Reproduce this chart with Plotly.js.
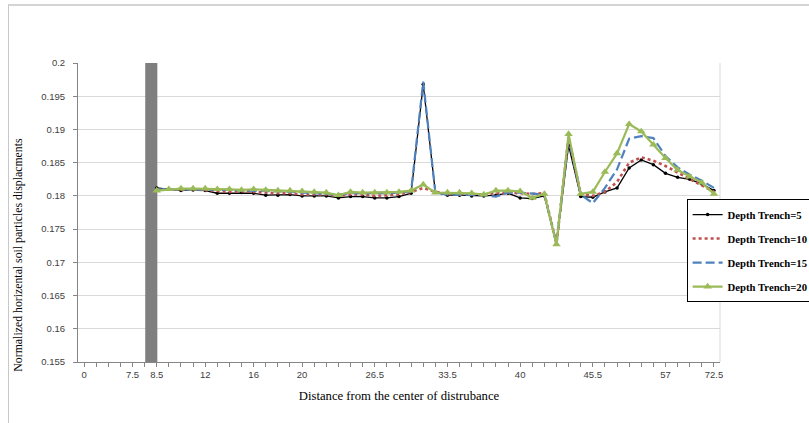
<!DOCTYPE html>
<html>
<head>
<meta charset="utf-8">
<script src="https://cdn.plot.ly/plotly-3.0.1.min.js"></script>
<style>
  html, body { margin: 0; padding: 0; overflow: hidden; background: #ffffff; }
  #frame { position: absolute; left: 8px; top: 4px; width: 900px; height: 520px;
           border-left: 1px solid #c8c8c8; border-top: 2px solid #d4d4d4; }
  #chart { position: absolute; left: 0; top: 0; width: 880px; height: 423px; }
</style>
</head>
<body>
<div id="frame"></div>
<div id="chart"></div>
<script>
// Station index of the first computed point (stations are evenly spaced on the category axis)
const firstStation = 6;

// Category axis labels and the stations they sit on
const tickStations = [0, 4, 6, 10, 14, 18, 24, 30, 36, 42, 48, 52];
const tickLabels = ['0', '7.5', '8.5', '12', '16', '20', '26.5', '33.5', '40', '45.5', '57', '72.5'];

// Trench location on the axis
const trenchStation = 5.55;
const trenchWidth = 1;
const trenchBase = 0.155;
const trenchTop = 0.2;

// Normalized horizontal displacement for each trench depth
const depth5 = [0.1812, 0.1810, 0.1808, 0.1809, 0.1808, 0.1804, 0.1804, 0.1805, 0.1804, 0.1801,
                0.1801, 0.1802, 0.1800, 0.1800, 0.1800, 0.1797, 0.1799, 0.1799, 0.1797, 0.1797,
                0.1799, 0.1804, 0.1968, 0.1805, 0.1801, 0.1801, 0.1800, 0.1800, 0.1801, 0.1804,
                0.1797, 0.1796, 0.1800, 0.1728, 0.1876, 0.1799, 0.1798, 0.1806, 0.1812, 0.1842,
                0.1854, 0.1847, 0.1834, 0.1828, 0.1825, 0.1818, 0.1808];
const depth10 = [0.1810, 0.1809, 0.1809, 0.1810, 0.1809, 0.1807, 0.1806, 0.1807, 0.1806, 0.1804,
                 0.1804, 0.1804, 0.1802, 0.1802, 0.1802, 0.1800, 0.1802, 0.1802, 0.1800, 0.1801,
                 0.1802, 0.1806, 0.1812, 0.1806, 0.1803, 0.1803, 0.1802, 0.1802, 0.1804, 0.1805,
                 0.1804, 0.1803, 0.1804, 0.1728, 0.1888, 0.1803, 0.1800, 0.1806, 0.1821, 0.1850,
                 0.1858, 0.1853, 0.1845, 0.1835, 0.1826, 0.1816, 0.1806];
const depth15 = [0.1810, 0.1810, 0.1810, 0.1810, 0.1810, 0.1809, 0.1809, 0.1808, 0.1808, 0.1807,
                 0.1807, 0.1806, 0.1805, 0.1805, 0.1804, 0.1802, 0.1804, 0.1804, 0.1803, 0.1804,
                 0.1805, 0.1807, 0.1972, 0.1805, 0.1802, 0.1802, 0.1801, 0.1801, 0.1799, 0.1805,
                 0.1805, 0.1804, 0.1802, 0.1728, 0.1888, 0.1802, 0.1789, 0.1812, 0.1840, 0.1886,
                 0.1890, 0.1887, 0.1860, 0.1843, 0.1832, 0.1823, 0.1812];
const depth20 = [0.1808, 0.1810, 0.1811, 0.1811, 0.1811, 0.1810, 0.1810, 0.1809, 0.1810, 0.1809,
                 0.1808, 0.1808, 0.1807, 0.1806, 0.1805, 0.1801, 0.1806, 0.1805, 0.1805, 0.1805,
                 0.1806, 0.1808, 0.1817, 0.1805, 0.1805, 0.1805, 0.1804, 0.1802, 0.1808, 0.1808,
                 0.1807, 0.1797, 0.1803, 0.1727, 0.1893, 0.1803, 0.1806, 0.1836, 0.1864, 0.1908,
                 0.1897, 0.1877, 0.1857, 0.1839, 0.1829, 0.1820, 0.1803];

const stations = depth5.map((_, i) => firstStation + i);

const serif = 'Liberation Serif, Times New Roman, serif';
const sans = 'Liberation Sans, Arial, sans-serif';

const traces = [
  {
    type: 'bar', x: [trenchStation], y: [trenchTop - trenchBase], base: [trenchBase],
    width: [trenchWidth], marker: { color: '#7f7f7f', line: { width: 0 } },
    showlegend: false, hoverinfo: 'skip'
  },
  {
    type: 'scatter', mode: 'lines+markers', name: 'Depth Trench=5', legendgroup: 'a',
    x: stations, y: depth5,
    line: { color: '#000000', width: 1.3 },
    marker: { color: '#000000', size: 3.5, symbol: 'circle' }
  },
  {
    type: 'scatter', mode: 'lines', name: 'Depth Trench=10', legendgroup: 'b',
    x: stations, y: depth10,
    line: { color: '#c0504d', width: 2.6, dash: 'dot' }
  },
  {
    type: 'scatter', mode: 'lines', name: 'Depth Trench=15', legendgroup: 'c',
    x: stations, y: depth15,
    line: { color: '#4f81bd', width: 2.2, dash: '9px,4px' }
  },
  {
    type: 'scatter', mode: 'lines+markers', name: 'Depth Trench=20', legendgroup: 'd',
    x: stations, y: depth20,
    line: { color: '#9bbb59', width: 2.2 },
    marker: { color: '#9bbb59', size: 7.5, symbol: 'triangle-up' }
  }
];

const layout = {
  width: 880, height: 423,
  margin: { l: 78, r: 160, t: 63, b: 61, autoexpand: false },
  paper_bgcolor: 'rgba(0,0,0,0)',
  plot_bgcolor: '#ffffff',
  showlegend: true,
  legend: {
    x: 0.948, xanchor: 'left', y: 0.545, yanchor: 'top',
    bgcolor: '#ffffff', bordercolor: '#000000', borderwidth: 1,
    tracegroupgap: 5,
    font: { family: serif, size: 10.7, color: '#000000', weight: 'bold' }
  },
  xaxis: {
    range: [-0.5, 52.5],
    tickmode: 'array', tickvals: tickStations, ticktext: tickLabels,
    ticks: 'outside', ticklen: 4, tickcolor: '#868686',
    minor: { tickmode: 'linear', tick0: 0, dtick: 1, ticks: 'outside', ticklen: 4, tickcolor: '#868686' },
    showline: true, linecolor: '#868686', linewidth: 1,
    showgrid: false, zeroline: false,
    tickfont: { family: sans, size: 9.5, color: '#404040' },
    title: { text: 'Distance from the center of distrubance', standoff: 11,
             font: { family: serif, size: 12.7, color: '#000000' } }
  },
  yaxis: {
    range: [0.155, 0.2], dtick: 0.005, tick0: 0.155,
    ticks: 'outside', ticklen: 4, tickcolor: '#868686',
    ticklabelstandoff: 6,
    showline: true, linecolor: '#868686', linewidth: 1,
    showgrid: true, gridcolor: '#d9d9d9', gridwidth: 1, zeroline: false,
    tickfont: { family: sans, size: 9.5, color: '#404040' }
  },
  shapes: [
    { type: 'line', xref: 'paper', yref: 'paper', x0: 1, x1: 1, y0: 0, y1: 1,
      line: { color: '#d9d9d9', width: 1 } }
  ],
  annotations: [
    { text: 'Normalized horizental soil particles displacments', textangle: -90,
      xref: 'paper', yref: 'paper', x: -0.093, y: 0.36, xanchor: 'center', yanchor: 'middle',
      showarrow: false, font: { family: serif, size: 11.8, color: '#000000' } }
  ]
};

Plotly.newPlot('chart', traces, layout, { displayModeBar: false, staticPlot: true });
</script>
</body>
</html>
